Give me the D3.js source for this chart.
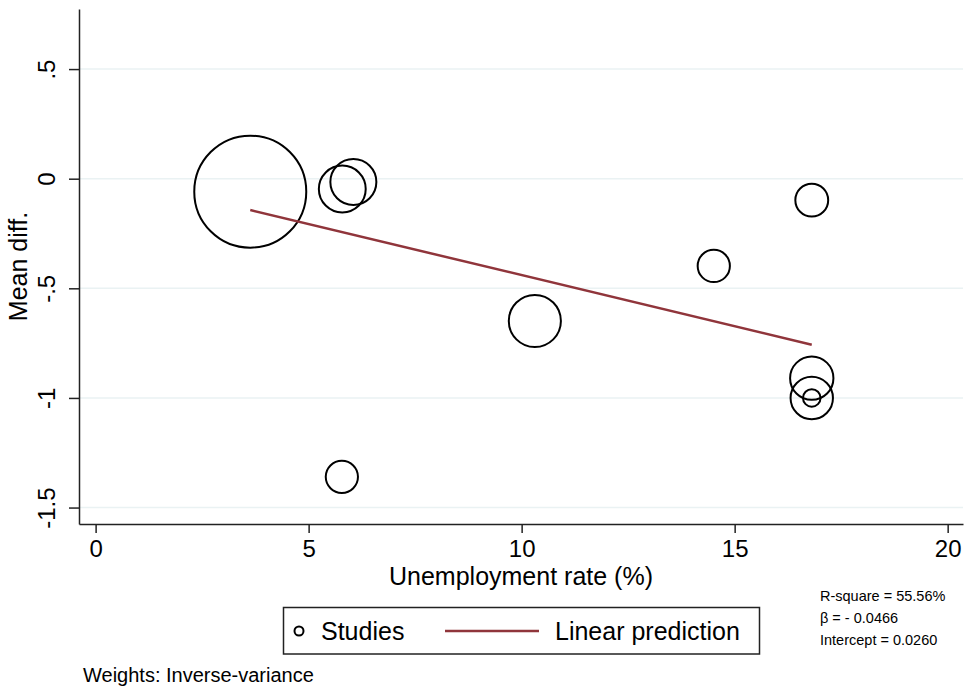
<!DOCTYPE html>
<html>
<head>
<meta charset="utf-8">
<script src="https://cdn.jsdelivr.net/npm/d3@7"></script>
<style>
  body { margin: 0; background: #fff; }
  text { font-family: "Liberation Sans", Arial, sans-serif; fill: #000; }
</style>
</head>
<body>
<div id="chart"></div>
<script>
// Meta-regression bubble plot: mean difference vs unemployment rate

// Studies (unemployment %, mean diff., inverse-variance weight)
const unemployment = [3.63, 5.79, 6.05, 5.78, 10.31, 14.51, 16.81, 16.81, 16.81, 16.81];
const meanDiff     = [-0.059, -0.047, -0.015, -1.36, -0.649, -0.398, -0.098, -0.91, -1.0, -1.0];
const weights      = [31.4, 5.5, 5.3, 2.6, 6.8, 2.6, 2.7, 4.7, 4.5, 0.77];

// Linear prediction end points
const fitX = [3.63, 16.81];
const fitY = [-0.143, -0.757];

const xTicks = [0, 5, 10, 15, 20];
const yTicks = [0.5, 0, -0.5, -1, -1.5];
const statLines = ["R-square = 55.56%", "\u03B2 = - 0.0466", "Intercept = 0.0260"];

const width = 966, height = 686;
const LINE_COLOR = "#90353b";
const GRID_COLOR = "#eaf2f3";

const svg = d3.select("#chart").append("svg")
  .attr("width", width)
  .attr("height", height);

const plot = { left: 79, right: 963, top: 9, bottom: 524 };

const x = d3.scaleLinear()
  .domain([-0.39, 20.36])
  .range([plot.left, plot.right]);

const y = d3.scaleLinear()
  .domain([0.774, -1.575])
  .range([plot.top, plot.bottom]);

const r = d3.scaleSqrt()
  .domain([0, d3.max(weights)])
  .range([0, 56]);

// Stata style: ".5", "-.5", plain hyphen
const stataFmt = d => (d < 0 ? "-" : "") + String(Math.abs(d)).replace(/^0\./, ".");

// gridlines
svg.append("g")
  .selectAll("line")
  .data(yTicks)
  .join("line")
  .attr("x1", plot.left + 1)
  .attr("x2", plot.right)
  .attr("y1", d => y(d))
  .attr("y2", d => y(d))
  .attr("stroke", GRID_COLOR)
  .attr("stroke-width", 1.5);

// axes
const yAxis = svg.append("g")
  .attr("transform", `translate(${plot.left},0)`)
  .call(d3.axisLeft(y).tickValues(yTicks)
    .tickFormat(stataFmt)
    .tickSize(10).tickSizeOuter(0));

yAxis.select(".domain").attr("stroke", "#222").attr("stroke-width", 1.5);
yAxis.selectAll(".tick line").attr("stroke", "#222").attr("stroke-width", 1.5);
yAxis.selectAll(".tick text")
  .attr("transform", "rotate(-90)")
  .attr("x", 0)
  .attr("y", -24)
  .attr("dy", 0)
  .attr("text-anchor", "middle")
  .style("font-size", "24px")
  .style("font-family", "'Liberation Sans', Arial, sans-serif")
  .attr("fill", "#000");

const xAxis = svg.append("g")
  .attr("transform", `translate(0,${plot.bottom})`)
  .call(d3.axisBottom(x).tickValues(xTicks).tickFormat(stataFmt)
    .tickSize(9).tickSizeOuter(0));

xAxis.select(".domain").attr("stroke", "#222").attr("stroke-width", 1.5);
xAxis.selectAll(".tick line").attr("stroke", "#222").attr("stroke-width", 1.5);
xAxis.selectAll(".tick text")
  .attr("y", 33)
  .attr("dy", 0)
  .style("font-size", "24px")
  .style("font-family", "'Liberation Sans', Arial, sans-serif")
  .attr("fill", "#000");

// axis titles
svg.append("text")
  .attr("x", 521)
  .attr("y", 585)
  .attr("text-anchor", "middle")
  .style("font-size", "25px")
  .text("Unemployment rate (%)");

svg.append("text")
  .attr("transform", `translate(27,${(plot.top + plot.bottom) / 2}) rotate(-90)`)
  .attr("text-anchor", "middle")
  .style("font-size", "25px")
  .text("Mean diff.");

// bubbles
const studies = unemployment.map((u, i) => ({ u, md: meanDiff[i], w: weights[i] }));

svg.append("g")
  .selectAll("circle")
  .data(studies)
  .join("circle")
  .attr("cx", d => x(d.u))
  .attr("cy", d => y(d.md))
  .attr("r", d => r(d.w))
  .attr("fill", "none")
  .attr("stroke", "#000")
  .attr("stroke-width", 2);

// linear prediction
svg.append("path")
  .datum(fitX.map((v, i) => [v, fitY[i]]))
  .attr("d", d3.line().x(d => x(d[0])).y(d => y(d[1])))
  .attr("fill", "none")
  .attr("stroke", LINE_COLOR)
  .attr("stroke-width", 2.5);

// legend
const legend = svg.append("g");
legend.append("rect")
  .attr("x", 283.5).attr("y", 607.5)
  .attr("width", 476).attr("height", 46.5)
  .attr("fill", "#fff")
  .attr("stroke", "#222")
  .attr("stroke-width", 1.5);

legend.append("circle")
  .attr("cx", 299).attr("cy", 631)
  .attr("r", 4.5)
  .attr("fill", "none")
  .attr("stroke", "#000")
  .attr("stroke-width", 2);

legend.append("text")
  .attr("x", 321).attr("y", 640)
  .style("font-size", "25px")
  .text("Studies");

legend.append("line")
  .attr("x1", 445).attr("x2", 539)
  .attr("y1", 631).attr("y2", 631)
  .attr("stroke", LINE_COLOR)
  .attr("stroke-width", 2.5);

legend.append("text")
  .attr("x", 555).attr("y", 640)
  .style("font-size", "25px")
  .text("Linear prediction");

// regression stats
svg.append("g")
  .selectAll("text")
  .data(statLines)
  .join("text")
  .attr("x", 820)
  .attr("y", (d, i) => 601 + i * 22)
  .style("font-size", "14.5px")
  .text(d => d);

// note
svg.append("text")
  .attr("x", 83)
  .attr("y", 682)
  .style("font-size", "20px")
  .text("Weights: Inverse-variance");
</script>
</body>
</html>
